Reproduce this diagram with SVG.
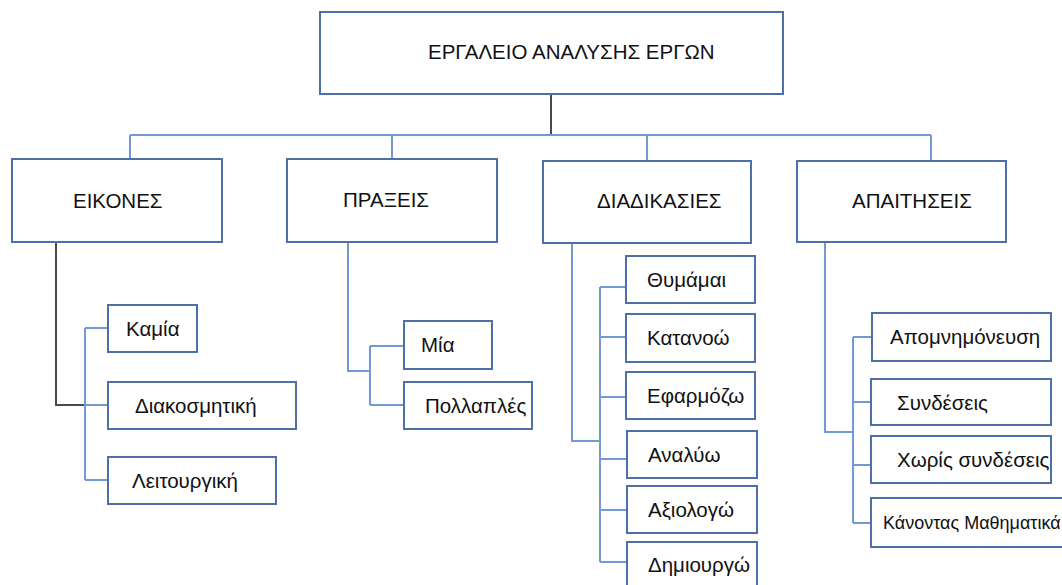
<svg xmlns="http://www.w3.org/2000/svg" width="1062" height="585" viewBox="0 0 1062 585">
  <style>
    .box { fill: #ffffff; stroke: #4f6fa8; stroke-width: 2; }
    .lbl { font-family: "Liberation Sans", Arial, sans-serif; font-size: 20.5px; fill: #111111; }
    .sm { font-size: 18px; }
    .ln { fill: none; stroke: #7398d8; stroke-width: 2; }
    .dk { fill: none; stroke: #4a4a4a; stroke-width: 2; }
  </style>
  <rect width="1062" height="585" fill="#ffffff"/>

  <g id="connectors">
    <!-- root to categories -->
    <path class="dk" d="M551 94 V135"/>
    <path class="ln" d="M130 135 H931 M130 135 V159 M392 135 V159 M647 135 V161 M931 135 V161"/>
    <!-- ΕΙΚΟΝΕΣ branch -->
    <path class="dk" d="M56 242 V405 H85"/>
    <path class="ln" d="M85 405 H108 M85 328 V480 M85 328 H108 M85 480 H108"/>
    <!-- ΠΡΑΞΕΙΣ branch -->
    <path class="ln" d="M348 242 V371 H370 M370 346 V405 M370 346 H404 M370 405 H404"/>
    <!-- ΔΙΑΔΙΚΑΣΙΕΣ branch -->
    <path class="ln" d="M572 243 V441 H600 M600 287 V562 M600 287 H626 M600 337 H626 M600 397 H626 M600 459 H627 M600 510 H627 M600 562 H627"/>
    <!-- ΑΠΑΙΤΗΣΕΙΣ branch -->
    <path class="ln" d="M825 242 V432 H853 M853 337 V523 M853 337 H872 M853 402 H871 M853 465 H871 M853 523 H871"/>
  </g>

  <g id="root">
    <rect class="box" x="320" y="12" width="463" height="82"/>
    <text class="lbl" x="428" y="59">ΕΡΓΑΛΕΙΟ ΑΝΑΛΥΣΗΣ ΕΡΓΩΝ</text>
  </g>

  <g id="eikones">
    <rect class="box" x="12" y="159" width="210" height="83"/>
    <text class="lbl" x="73" y="208">ΕΙΚΟΝΕΣ</text>
  </g>
  <g id="praxeis">
    <rect class="box" x="287" y="159" width="210" height="83"/>
    <text class="lbl" x="343" y="207">ΠΡΑΞΕΙΣ</text>
  </g>
  <g id="diadikasies">
    <rect class="box" x="543" y="161" width="208" height="82"/>
    <text class="lbl" x="597" y="208">ΔΙΑΔΙΚΑΣΙΕΣ</text>
  </g>
  <g id="apaitiseis">
    <rect class="box" x="797" y="161" width="209" height="81"/>
    <text class="lbl" x="852" y="208">ΑΠΑΙΤΗΣΕΙΣ</text>
  </g>

  <g id="kamia">
    <rect class="box" x="108" y="305" width="89" height="47"/>
    <text class="lbl" x="126" y="336">Καμία</text>
  </g>
  <g id="diakosmitiki">
    <rect class="box" x="108" y="382" width="188" height="47"/>
    <text class="lbl" x="135" y="413">Διακοσμητική</text>
  </g>
  <g id="leitourgiki">
    <rect class="box" x="108" y="457" width="168" height="47"/>
    <text class="lbl" x="132" y="488">Λειτουργική</text>
  </g>

  <g id="mia">
    <rect class="box" x="404" y="321" width="88" height="48"/>
    <text class="lbl" x="421" y="352">Μία</text>
  </g>
  <g id="pollaples">
    <rect class="box" x="404" y="382" width="128" height="47"/>
    <text class="lbl" x="425" y="413">Πολλαπλές</text>
  </g>

  <g id="thymamai">
    <rect class="box" x="626" y="256" width="129" height="47"/>
    <text class="lbl" x="647" y="287">Θυμάμαι</text>
  </g>
  <g id="katanoo">
    <rect class="box" x="626" y="314" width="129" height="48"/>
    <text class="lbl" x="647" y="345">Κατανοώ</text>
  </g>
  <g id="efarmozo">
    <rect class="box" x="626" y="372" width="129" height="47"/>
    <text class="lbl" x="647" y="403">Εφαρμόζω</text>
  </g>
  <g id="analyo">
    <rect class="box" x="627" y="431" width="130" height="47"/>
    <text class="lbl" x="648" y="462">Αναλύω</text>
  </g>
  <g id="axiologo">
    <rect class="box" x="627" y="486" width="130" height="47"/>
    <text class="lbl" x="648" y="517">Αξιολογώ</text>
  </g>
  <g id="dimiourgo">
    <rect class="box" x="627" y="542" width="130" height="50"/>
    <text class="lbl" x="648" y="572">Δημιουργώ</text>
  </g>

  <g id="apomnimoneusi">
    <rect class="box" x="872" y="313" width="179" height="48"/>
    <text class="lbl" x="890" y="344">Απομνημόνευση</text>
  </g>
  <g id="syndeseis">
    <rect class="box" x="871" y="379" width="180" height="46"/>
    <text class="lbl" x="897" y="410">Συνδέσεις</text>
  </g>
  <g id="choris-syndeseis">
    <rect class="box" x="871" y="436" width="180" height="47"/>
    <text class="lbl" x="897" y="467">Χωρίς συνδέσεις</text>
  </g>
  <g id="kanontas">
    <rect class="box" x="871" y="498" width="200" height="49"/>
    <text class="lbl sm" x="883" y="529">Κάνοντας Μαθηματικά</text>
  </g>
</svg>
